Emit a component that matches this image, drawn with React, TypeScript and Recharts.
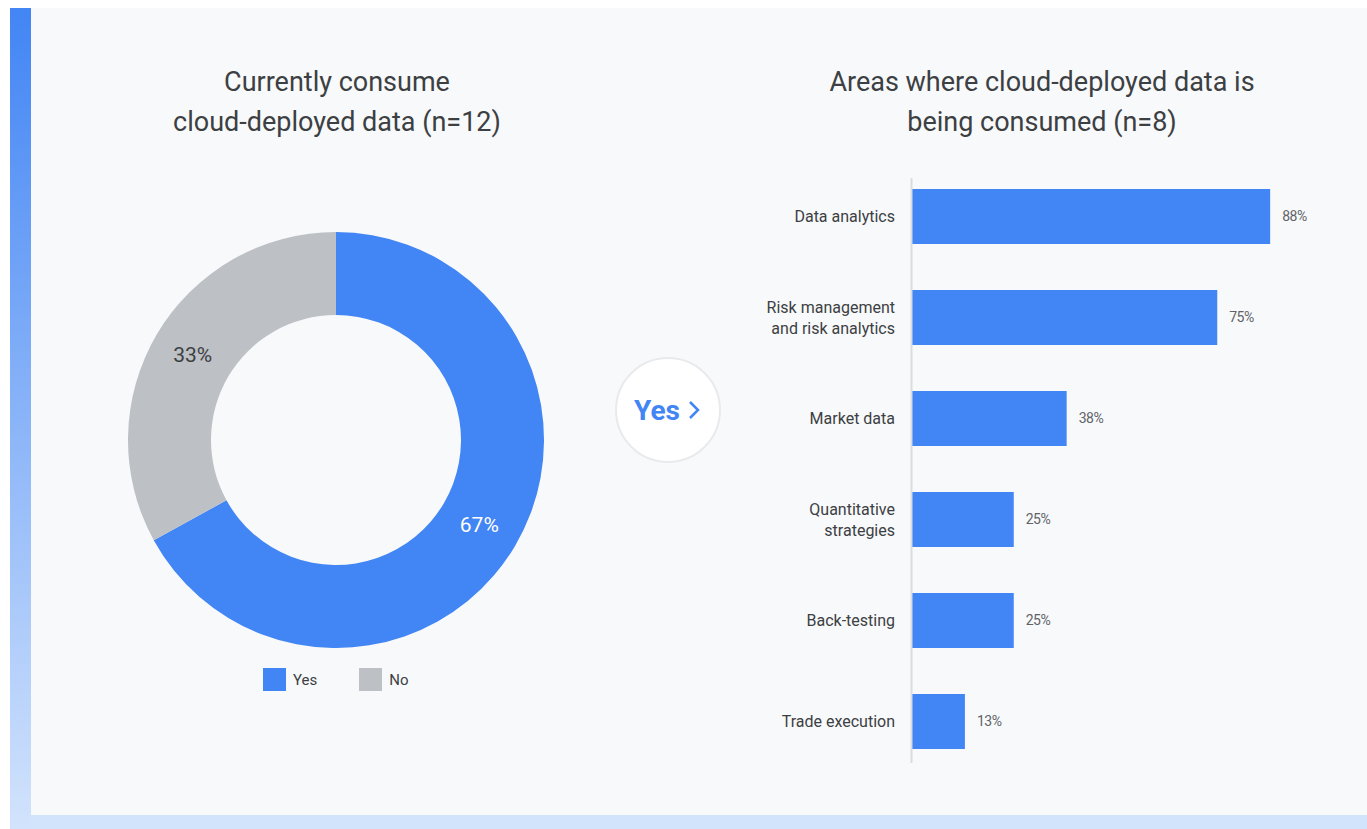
import { Bar, BarChart, Cell, LabelList, Pie, PieChart, ReferenceLine, XAxis, YAxis } from "recharts";

const shareNames = ["Yes", "No"];
const shareValues = [67, 33];
const shareColors = ["#4285f4", "#bdc1c6"];

const areaNames = [
  "Data analytics",
  "Risk management\nand risk analytics",
  "Market data",
  "Quantitative\nstrategies",
  "Back-testing",
  "Trade execution",
];
const areaValues = [88, 75, 38, 25, 25, 13];

const pieData = shareNames.map((name, i) => ({ name, value: shareValues[i], fill: shareColors[i] }));
const barData = areaNames.map((name, i) => ({ name, value: areaValues[i] }));

const FONT = "Roboto, 'Open Sans', sans-serif";
const RAD = Math.PI / 180;

function SliceLabel(props: any) {
  const { cx, cy, midAngle, innerRadius, outerRadius, value, index } = props;
  const r = (innerRadius + outerRadius) / 2;
  const x = cx + r * Math.cos(-midAngle * RAD);
  const y = cy + r * Math.sin(-midAngle * RAD);
  return (
    <text
      x={x}
      y={y}
      textAnchor="middle"
      dominantBaseline="central"
      fill={index === 0 ? "#ffffff" : "#3c4043"}
      fontSize={21}
      fontFamily={FONT}
    >
      {value}%
    </text>
  );
}

function AreaTick(props: any) {
  const { x, y, payload } = props;
  const lines = String(payload.value).split("\n");
  const start = -((lines.length - 1) * 21) / 2;
  return (
    <text x={x} y={y} textAnchor="end" fill="#3c4043" fontSize={16} fontFamily={FONT}>
      {lines.map((line, i) => (
        <tspan key={i} x={x} y={y + start + i * 21} dy="0.35em">
          {line}
        </tspan>
      ))}
    </text>
  );
}

// the reference line spans the whole plot height; trim it a bit at both ends
function AxisLine(props: any) {
  const { x1, y1, x2, y2 } = props;
  const top = Math.min(y1, y2) + 12;
  const bottom = Math.max(y1, y2) - 9;
  return <line x1={x1 - 0.5} y1={top} x2={x2 - 0.5} y2={bottom} stroke="#dadce0" strokeWidth={2} />;
}

const titleStyle: React.CSSProperties = {
  position: "absolute",
  width: 520,
  textAlign: "center",
  fontFamily: FONT,
  fontSize: 27,
  lineHeight: "40px",
  color: "#3c4043",
};

export default function App() {
  return (
    <div style={{ position: "fixed", left: 0, top: 0, width: 1367, height: 829, background: "#ffffff", overflow: "hidden" }}>
      <div style={{ position: "absolute", left: 10, top: 8, width: 1357, height: 821, background: "#d2e3fc" }} />
      <div
        style={{
          position: "absolute",
          left: 10,
          top: 8,
          width: 21,
          height: 821,
          background: "linear-gradient(180deg, #4285f4 0%, #d2e3fc 100%)",
        }}
      />
      <div style={{ position: "absolute", left: 31, top: 8, width: 1336, height: 807, background: "#f8f9fa" }} />

      <div style={{ ...titleStyle, left: 77, top: 62 }}>
        Currently consume
        <br />
        cloud-deployed data (n=12)
      </div>
      <div style={{ ...titleStyle, left: 782, top: 62 }}>
        Areas where cloud-deployed data is
        <br />
        being consumed (n=8)
      </div>

      <div style={{ position: "absolute", left: 31, top: 185 }}>
        <PieChart width={600} height={500}>
          <Pie
            data={pieData}
            dataKey="value"
            nameKey="name"
            cx={300}
            cy={250}
            innerRadius={125}
            outerRadius={208}
            startAngle={90}
            endAngle={-270}
            stroke="none"
            label={SliceLabel}
            labelLine={false}
            isAnimationActive={false}
          >
            {pieData.map((d) => (
              <Cell key={d.name} fill={d.fill} />
            ))}
          </Pie>
        </PieChart>
      </div>

      <div style={{ position: "absolute", left: 263, top: 668, display: "flex", fontFamily: FONT, fontSize: 15, color: "#3c4043" }}>
        {pieData.map((d) => (
          <div key={d.name} style={{ display: "flex", alignItems: "center", marginRight: 42 }}>
            <div style={{ width: 23, height: 23, background: d.fill, marginRight: 7 }} />
            <span>{d.name}</span>
          </div>
        ))}
      </div>

      <div
        style={{
          position: "absolute",
          left: 615,
          top: 357,
          width: 102,
          height: 102,
          borderRadius: "50%",
          background: "#ffffff",
          border: "2px solid #e8eaed",
          display: "flex",
          alignItems: "center",
          justifyContent: "center",
          fontFamily: FONT,
          fontWeight: 700,
          fontSize: 28,
          color: "#4285f4",
        }}
      >
        <span>Yes</span>
        <svg width={16} height={22} style={{ marginLeft: 6 }}>
          <polyline points="4,3 12,11 4,19" fill="none" stroke="#4285f4" strokeWidth={2.5} />
        </svg>
      </div>

      <div style={{ position: "absolute", left: 700, top: 146 }}>
        <BarChart
          width={667}
          height={646}
          data={barData}
          layout="vertical"
          margin={{ top: 20, right: 48, bottom: 20, left: 0 }}
          barSize={55}
        >
          <XAxis type="number" domain={[0, 100]} hide />
          <YAxis
            type="category"
            dataKey="name"
            width={212}
            axisLine={false}
            tickLine={false}
            tickSize={0}
            tickMargin={17}
            tick={<AreaTick />}
            interval={0}
          />
          <ReferenceLine x={0} shape={<AxisLine />} />
          <Bar dataKey="value" fill="#4285f4" isAnimationActive={false}>
            <LabelList
              dataKey="value"
              position="right"
              offset={12}
              formatter={(v: any) => `${v}%`}
              fill="#5f6368"
              fontSize={14}
              fontFamily={FONT}
              letterSpacing={-0.5}
            />
          </Bar>
        </BarChart>
      </div>
    </div>
  );
}
